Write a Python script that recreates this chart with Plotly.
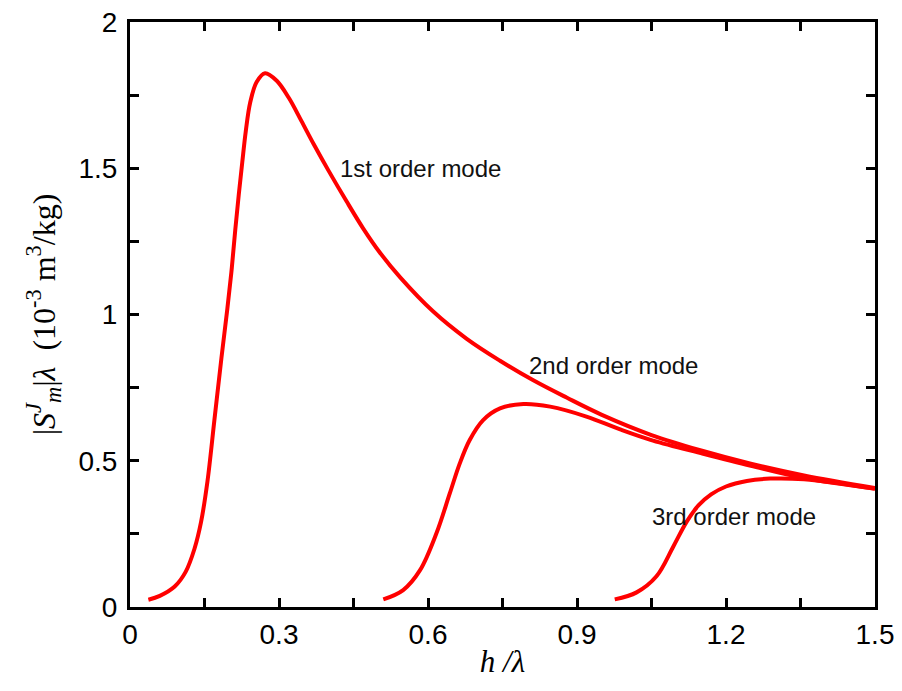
import plotly.graph_objects as go

# Mode curves (h/lambda, |S|lambda in 1e-3 m^3/kg)
mode1_x = [0.037, 0.06, 0.09, 0.112, 0.13, 0.143, 0.156, 0.17, 0.184, 0.196, 0.205, 0.212, 0.219,
           0.226, 0.233, 0.242, 0.255, 0.272, 0.295, 0.32, 0.345, 0.37, 0.40, 0.436, 0.47, 0.503,
           0.544, 0.61, 0.678, 0.745, 0.812, 0.879, 0.95, 1.05, 1.15, 1.25, 1.357, 1.5]
mode1_y = [0.025, 0.038, 0.07, 0.12, 0.20, 0.29, 0.43, 0.64, 0.85, 1.02, 1.16, 1.29, 1.41,
           1.52, 1.625, 1.725, 1.795, 1.825, 1.80, 1.74, 1.662, 1.582, 1.491, 1.387, 1.293, 1.212,
           1.127, 1.011, 0.917, 0.842, 0.775, 0.716, 0.657, 0.588, 0.535, 0.49, 0.45, 0.407]

mode2_x = [0.51, 0.55, 0.584, 0.617, 0.644, 0.664, 0.684, 0.711, 0.745, 0.792, 0.846, 0.919,
           0.987, 1.053, 1.154, 1.25, 1.357, 1.5]
mode2_y = [0.026, 0.058, 0.126, 0.252, 0.389, 0.491, 0.571, 0.639, 0.679, 0.694, 0.685, 0.651,
           0.607, 0.569, 0.524, 0.483, 0.441, 0.405]

mode3_x = [0.976, 1.02, 1.06, 1.094, 1.121, 1.145, 1.17, 1.20, 1.242, 1.289, 1.357, 1.424, 1.5]
mode3_y = [0.026, 0.05, 0.105, 0.207, 0.292, 0.348, 0.385, 0.412, 0.431, 0.439, 0.437, 0.424, 0.404]

labels = ["1st order mode", "2nd order mode", "3rd order mode"]
label_x = [0.418, 0.80, 1.047]
label_y = [1.50, 0.827, 0.31]

x_tickvals = [0, 0.15, 0.3, 0.45, 0.6, 0.75, 0.9, 1.05, 1.2, 1.35, 1.5]
x_ticktext = ["0", "", "0.3", "", "0.6", "", "0.9", "", "1.2", "", "1.5"]
y_tickvals = [0, 0.25, 0.5, 0.75, 1, 1.25, 1.5, 1.75, 2]
y_ticktext = ["0", "", "0.5", "", "1", "", "1.5", "", "2"]

fig = go.Figure()
for xs, ys in [(mode1_x, mode1_y), (mode2_x, mode2_y), (mode3_x, mode3_y)]:
    fig.add_trace(go.Scatter(x=xs, y=ys, mode="lines",
                             line=dict(color="#ff0000", width=4, shape="spline", smoothing=1),
                             showlegend=False, hoverinfo="skip"))

for t, lx, ly in zip(labels, label_x, label_y):
    fig.add_annotation(x=lx, y=ly, text=t, showarrow=False, xanchor="left", yanchor="middle",
                       font=dict(family="Arial, Liberation Sans", size=24, color="#111111"))

axis_common = dict(showline=True, linecolor="black", linewidth=3, mirror="ticks",
                   ticks="inside", ticklen=9, tickwidth=2.5, tickcolor="black",
                   showgrid=False, zeroline=False, automargin=False,
                   ticklabeloverflow="allow",
                   tickfont=dict(family="Arial, Liberation Sans", size=28, color="black"))

fig.update_xaxes(range=[0, 1.5], tickmode="array", tickvals=x_tickvals, ticktext=x_ticktext,
                 title=dict(text="<i>h /λ</i>", font=dict(family="Times New Roman, Liberation Serif", size=31, color="black"),
                            standoff=2),
                 **axis_common)
fig.update_yaxes(range=[0, 2], tickmode="array", tickvals=y_tickvals, ticktext=y_ticktext,
                 ticklabelstandoff=4,
                 title=dict(text="|<i>S</i><sup><i>J</i></sup><sub><i>m</i></sub>|<i>λ</i>  (10<sup>-3</sup> m<sup>3</sup>/kg)",
                            font=dict(family="Times New Roman, Liberation Serif", size=32, color="black"),
                            standoff=14),
                 **axis_common)

# page body adds an 8 px offset; size the figure so the plot area lands where the reference's does
fig.update_layout(width=894, height=683, plot_bgcolor="white", paper_bgcolor="white",
                  margin=dict(l=122, r=27, t=14, b=84))

fig.write_html("out.html")
